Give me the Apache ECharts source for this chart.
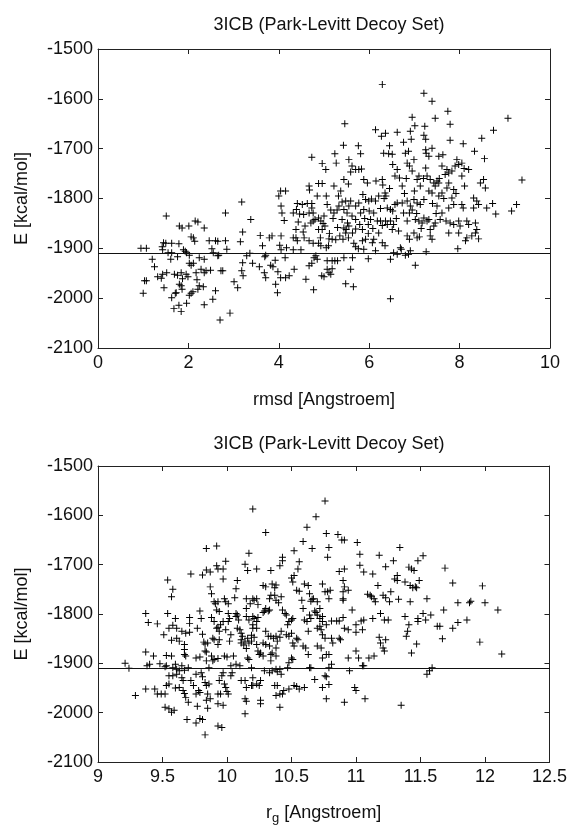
<!DOCTYPE html>
<html>
<head>
<meta charset="utf-8">
<script src="https://cdn.jsdelivr.net/npm/echarts@6/dist/echarts.min.js"></script>
<style>html,body{margin:0;padding:0;background:#fff}#c{width:570px;height:826px}</style>
</head>
<body>
<div id="c"></div>
<script>
// Top panel: energy vs rmsd
const rmsdEnergy = [
[0.95,-1900],[1.07,-1900],[1.2,-1922],[1.25,-1937],[1.0,-1990],[1.03,-1965],[1.07,-1965],[1.32,-1957],[1.42,-1897],[1.45,-1889],[1.43,-1903],[1.51,-1835],[1.5,-1890],[1.63,-1890],[1.79,-1891],[1.55,-1909],[1.63,-1909],[1.61,-1922],[1.76,-1917],[1.52,-1949],[1.43,-1952],[1.4,-1960],[1.46,-1979],[1.63,-1999],[1.68,-2021],[1.79,-2014],[1.84,-2027],[1.96,-2010],[1.73,-1989],[1.71,-1990],[1.8,-1972],[1.84,-1975],[1.86,-1982],[1.69,-1952],[1.76,-1954],[1.84,-1949],[1.95,-1952],[1.99,-1957],[1.87,-1961],[1.8,-1855],[1.86,-1859],[1.89,-1903],[1.93,-1906],[1.96,-1909],[2.01,-1855],[2.06,-1877],[2.11,-1879],[2.14,-1886],[2.15,-1845],[2.21,-1847],[2.02,-1930],[2.06,-1934],[2.11,-1930],[2.02,-1914],[2.06,-1990],[2.1,-1987],[2.02,-1994],[2.17,-1949],[2.19,-1963],[2.24,-1975],[2.21,-1982],[2.24,-1919],[2.35,-1922],[2.28,-1942],[2.35,-1859],[2.33,-1977],[2.35,-2013],[2.35,-1949],[2.39,-1945],[2.46,-1885],[2.6,-1885],[2.65,-1886],[2.52,-1901],[2.55,-1909],[2.65,-1915],[2.67,-1914],[2.54,-2002],[2.6,-1985],[2.49,-1944],[2.7,-2044],[2.72,-1945],[2.76,-1945],[2.82,-1829],[2.82,-1885],[2.85,-1902],[2.92,-2030],[3.01,-1967],[3.09,-1979],[3.18,-1807],[3.2,-1867],[3.15,-1887],[3.2,-1929],[3.18,-1945],[3.21,-1955],[3.29,-1915],[3.36,-1910],[3.38,-1842],[3.42,-1930],[3.57,-1937],[3.59,-1874],[3.64,-1895],[3.68,-1949],[3.71,-1959],[3.71,-1914],[3.69,-1917],[3.79,-1879],[3.85,-1875],[3.82,-1934],[3.87,-1937],[3.92,-1924],[3.93,-1972],[3.97,-1989],[3.98,-1947],
[4.0,-1795],[4.04,-1785],[4.15,-1785],[4.05,-1815],[4.07,-1829],[4.12,-1844],[4.05,-1875],[4.02,-1894],[4.05,-1903],[4.17,-1899],[4.14,-1919],[4.04,-1959],[4.15,-1959],[4.23,-1955],[4.34,-1942],[4.32,-1879],[4.38,-1879],[4.41,-1885],[4.32,-1903],[4.49,-1903],[4.38,-1862],[4.43,-1847],[4.32,-1829],[4.39,-1822],[4.41,-1810],[4.52,-1812],[4.46,-1831],[4.56,-1879],[4.58,-1855],[4.54,-1867],[4.6,-1962],[4.63,-1810],[4.73,-1810],[4.67,-1775],[4.68,-1783],[4.73,-1717],[4.67,-1885],[4.76,-1890],[4.73,-1819],[4.67,-1829],[4.76,-1829],[4.71,-1849],[4.76,-1845],[4.8,-1842],[4.67,-1935],[4.73,-1930],[4.78,-1919],[4.82,-1915],[4.85,-1922],[4.77,-1983],[4.88,-1770],[4.96,-1770],[4.96,-1730],[5.04,-1742],[4.88,-1839],[4.93,-1845],[4.98,-1850],[5.02,-1855],[4.96,-1862],[4.88,-1862],[4.92,-1879],[4.88,-1890],[4.93,-1895],[4.95,-1955],[5.0,-1957],[5.07,-1925],[5.07,-1942],[5.11,-1949],[5.15,-1952],[5.18,-1941],[5.24,-1925],[5.3,-1925],[5.18,-1925],[5.05,-1899],[5.1,-1895],[5.11,-1881],[5.18,-1882],[5.26,-1883],[5.05,-1795],[5.07,-1812],[5.15,-1823],[5.22,-1829],[5.29,-1823],[5.33,-1815],[5.32,-1795],[5.37,-1785],[5.24,-1710],[5.27,-1729],[5.22,-1775],[5.44,-1762],[5.54,-1771],[5.4,-1807],[5.48,-1805],[5.59,-1805],[5.44,-1822],[5.51,-1829],[5.55,-1815],[5.43,-1693],[5.46,-1650],[5.55,-1722],[5.62,-1735],[5.7,-1742],[5.77,-1742],[5.83,-1741],[5.59,-1747],[5.76,-1694],[5.81,-1710],[5.4,-1842],[5.44,-1859],[5.49,-1862],[5.55,-1855],[5.52,-1849],[5.48,-1869],[5.42,-1882],[5.54,-1879],[5.63,-1869],[5.7,-1861],[5.44,-1919],[5.63,-1919],[5.59,-1942],[5.48,-1971],[5.65,-1977],[5.7,-1897],[5.76,-1901],[5.85,-1885],[5.88,-1902],[5.92,-1882],[5.7,-1815],[5.77,-1809],[5.81,-1829],[5.88,-1822],[5.86,-1792],[5.92,-1802],[5.99,-1805],[6.05,-1801],[5.96,-1769],[5.88,-1762],[5.7,-1842],[5.79,-1852],[5.85,-1862],[5.98,-1852],[6.03,-1842],[5.98,-1921],[6.07,-1889],[6.1,-1882],[6.14,-1905],[5.98,-1870],[6.1,-1829],[6.14,-1805],[6.18,-1845],[6.21,-1795],[6.14,-1662],[6.15,-1765],
[6.29,-1571],[6.27,-1675],[6.36,-1669],[6.32,-1709],[6.43,-1710],[6.45,-1694],[6.51,-1711],[6.29,-1762],[6.3,-1773],[6.35,-1789],[6.37,-1795],[6.21,-1869],[6.25,-1845],[6.36,-1845],[6.29,-1854],[6.4,-1852],[6.47,-1845],[6.51,-1862],[6.54,-1852],[6.4,-1819],[6.47,-1822],[6.52,-1825],[6.57,-1812],[6.62,-1809],[6.29,-1889],[6.35,-1895],[6.47,-1922],[6.54,-1909],[6.62,-1912],[6.69,-1899],[6.71,-1902],[6.8,-1914],[6.87,-1912],[6.91,-1905],[6.47,-2001],[6.52,-1732],[6.57,-1755],[6.62,-1742],[6.67,-1759],[6.73,-1775],[6.62,-1667],[6.76,-1687],[6.8,-1709],[6.87,-1705],[6.91,-1665],[6.93,-1681],[6.95,-1637],[7.01,-1654],[6.84,-1729],[6.89,-1735],[6.95,-1745],[6.99,-1722],[7.06,-1762],[7.1,-1755],[7.13,-1775],[6.73,-1809],[6.84,-1805],[6.91,-1815],[6.99,-1802],[7.06,-1809],[7.13,-1812],[7.21,-1802],[6.76,-1829],[6.84,-1845],[6.89,-1829],[6.95,-1823],[7.02,-1842],[7.1,-1845],[7.17,-1849],[7.21,-1839],[7.28,-1845],[6.84,-1875],[6.89,-1882],[6.99,-1869],[7.06,-1879],[7.11,-1877],[7.02,-1934],[7.26,-1907],[7.21,-1589],[7.39,-1605],[7.21,-1673],[7.25,-1681],[7.23,-1655],[7.46,-1639],[7.25,-1702],[7.26,-1709],[7.32,-1715],[7.39,-1699],[7.25,-1739],[7.28,-1755],[7.35,-1762],[7.43,-1769],[7.5,-1765],[7.54,-1769],[7.46,-1775],[7.32,-1785],[7.39,-1789],[7.5,-1815],[7.54,-1795],[7.61,-1789],[7.32,-1842],[7.35,-1862],[7.43,-1855],[7.46,-1849],[7.57,-1842],[7.61,-1829],[7.39,-1882],[7.35,-1875],[7.54,-1715],[7.63,-1712],[7.61,-1735],[7.68,-1752],[7.74,-1625],[7.79,-1651],[7.79,-1683],[7.72,-1742],[7.76,-1749],[7.83,-1745],[7.9,-1735],[7.94,-1722],[7.98,-1732],[8.05,-1729],[7.76,-1769],[7.72,-1779],[7.83,-1799],[7.87,-1812],[7.76,-1819],[7.87,-1782],[7.79,-1849],[7.87,-1852],[7.98,-1845],[7.76,-1869],[7.98,-1869],[7.96,-1901],[8.01,-1855],[8.08,-1690],[8.05,-1755],[8.11,-1775],[8.08,-1819],[8.05,-1812],[8.2,-1742],[8.16,-1845],[8.2,-1852],[8.13,-1885],[8.16,-1879],[8.27,-1875],[8.31,-1799],[8.38,-1805],[8.42,-1812],[8.31,-1819],[8.35,-1849],[8.38,-1862],[8.35,-1869],[8.42,-1881],[8.33,-1705],[8.49,-1679],[8.55,-1720],[8.46,-1769],[8.57,-1779],[8.53,-1762],[8.6,-1819],[8.73,-1810],[8.8,-1831],[8.75,-1663],[9.07,-1639],[9.15,-1825],[9.26,-1812],[9.38,-1763],
[4.55,-1832],[4.85,-1795],[5.0,-1835],[5.12,-1870],[5.2,-1840],[5.3,-1858],[5.35,-1875],[5.62,-1835],[5.66,-1890],[5.9,-1840],[6.0,-1825],[6.08,-1860],[6.25,-1820],[6.33,-1800],[6.45,-1780],[6.6,-1840],[6.65,-1865],[6.78,-1790],[6.82,-1760],[7.0,-1785],[7.05,-1830],[7.15,-1860],[7.2,-1760],[7.4,-1810],[7.48,-1830],[7.55,-1760],[7.65,-1800],[7.7,-1845],[7.92,-1790],[8.1,-1740]
];

// Bottom panel: energy vs radius of gyration
const rgEnergy = [
[9.21,-1900],[9.24,-1910],[9.29,-1965],[9.37,-1952],[9.44,-1952],[9.46,-1962],[9.49,-1962],[9.37,-1877],[9.43,-1885],[9.38,-1905],[9.4,-1902],[9.37,-1799],[9.39,-1817],[9.46,-1820],[9.48,-1901],[9.52,-1907],[9.53,-1905],[9.51,-1842],[9.52,-1989],[9.55,-1992],[9.57,-1999],[9.59,-1995],[9.52,-1962],[9.53,-1945],[9.55,-1942],[9.53,-1884],[9.57,-1885],[9.54,-1731],[9.58,-1750],[9.57,-1765],[9.54,-1799],[9.55,-1829],[9.58,-1823],[9.6,-1809],[9.61,-1829],[9.57,-1853],[9.61,-1849],[9.63,-1855],[9.55,-1925],[9.58,-1925],[9.61,-1922],[9.65,-1929],[9.66,-1935],[9.58,-1909],[9.6,-1902],[9.61,-1912],[9.65,-1905],[9.63,-1915],[9.67,-1914],[9.6,-1950],[9.63,-1949],[9.66,-1955],[9.65,-1835],[9.68,-1839],[9.71,-1837],[9.71,-1807],[9.71,-1819],[9.67,-1862],[9.67,-1872],[9.67,-1882],[9.68,-1885],[9.7,-1909],[9.67,-1961],[9.68,-1969],[9.7,-1979],[9.69,-2014],[9.76,-2021],[9.79,-2012],[9.81,-2014],[9.72,-1719],[9.72,-1935],[9.74,-1945],[9.76,-1962],[9.79,-1959],[9.77,-1987],[9.78,-1955],[9.76,-1889],[9.79,-1887],[9.8,-1919],[9.76,-1922],[9.81,-1927],[9.83,-1939],[9.77,-1829],[9.79,-1794],[9.8,-1809],[9.81,-1841],[9.82,-1857],[9.83,-1861],[9.81,-1721],[9.84,-1711],[9.84,-1667],[9.87,-1715],[9.83,-2045],[9.85,-1991],[9.84,-1945],[9.86,-1942],[9.85,-1962],[9.84,-1975],[9.87,-1972],[9.86,-1909],[9.84,-1895],[9.88,-1885],[9.89,-1895],[9.9,-1892],[9.93,-1890],[9.83,-1875],[9.84,-1877],[9.85,-1859],[9.87,-1745],[9.88,-1759],[9.9,-1775],[9.91,-1779],[9.93,-1775],[9.92,-1792],[9.94,-1795],[9.88,-1807],[9.9,-1815],[9.92,-1829],[9.93,-1827],[9.94,-1835],[9.95,-1822],[9.97,-1815],[9.89,-1849],[9.9,-1852],[9.93,-1862],[9.94,-1852],[9.92,-1662],[9.92,-1702],[9.93,-1709],[9.93,-2027],[9.96,-2030],[9.93,-1962],[9.95,-1962],[9.93,-1982],[9.97,-1985],[9.96,-1925],[9.94,-1935],[9.97,-1919],[9.98,-1942],[9.99,-1949],[10.0,-1957],[10.01,-1962],[9.97,-1709],[9.97,-1729],[9.99,-1693],[9.98,-1769],[9.99,-1775],[10.01,-1779],[10.01,-1799],[10.02,-1809],[10.01,-1815],[9.99,-1832],[10.03,-1842],[10.02,-1855],[9.98,-1885],[10.0,-1887],[10.03,-1905],[10.04,-1919],[10.03,-1925],
[10.05,-1885],[10.08,-1802],[10.08,-1732],[10.07,-1749],[10.06,-1767],[10.07,-1799],[10.07,-1805],[10.09,-1812],[10.08,-1829],[10.1,-1832],[10.11,-1839],[10.12,-1845],[10.11,-1852],[10.14,-1855],[10.07,-1902],[10.1,-1905],[10.11,-1935],[10.14,-1935],[10.15,-1949],[10.14,-1972],[10.15,-1977],[10.14,-2002],[10.11,-1859],[10.13,-1863],[10.15,-1870],[10.17,-1859],[10.19,-1855],[10.16,-1849],[10.14,-1699],[10.17,-1677],[10.16,-1712],[10.15,-1769],[10.18,-1779],[10.15,-1789],[10.2,-1769],[10.21,-1772],[10.23,-1769],[10.15,-1805],[10.17,-1812],[10.2,-1805],[10.21,-1809],[10.23,-1815],[10.24,-1807],[10.2,-1822],[10.23,-1829],[10.2,-1829],[10.19,-1843],[10.21,-1847],[10.23,-1862],[10.24,-1875],[10.25,-1882],[10.26,-1879],[10.28,-1885],[10.16,-1889],[10.17,-1892],[10.19,-1909],[10.2,-1929],[10.23,-1942],[10.25,-1945],[10.26,-1935],[10.19,-1945],[10.2,-1945],[10.26,-1975],[10.26,-1982],[10.2,-1587],[10.23,-1709],[10.24,-1781],[10.28,-1797],[10.29,-1794],[10.3,-1789],[10.32,-1794],[10.33,-1792],[10.28,-1742],[10.3,-1745],[10.3,-1635],[10.34,-1712],[10.35,-1739],[10.37,-1747],[10.38,-1741],[10.34,-1762],[10.33,-1769],[10.3,-1835],[10.32,-1845],[10.34,-1845],[10.36,-1849],[10.38,-1845],[10.39,-1855],[10.41,-1847],[10.42,-1835],[10.28,-1859],[10.3,-1862],[10.33,-1865],[10.34,-1882],[10.35,-1879],[10.38,-1869],[10.38,-1885],[10.34,-1895],[10.29,-1915],[10.33,-1919],[10.35,-1915],[10.38,-1912],[10.39,-1917],[10.41,-1912],[10.42,-1922],[10.37,-1945],[10.39,-1945],[10.38,-1965],[10.41,-1962],[10.41,-1989],[10.43,-1962],[10.44,-1955],[10.37,-1762],[10.38,-1772],[10.4,-1777],[10.42,-1765],[10.41,-1702],[10.43,-1692],[10.43,-1685],[10.43,-1792],[10.45,-1799],[10.46,-1802],[10.47,-1822],[10.48,-1815],[10.5,-1812],[10.51,-1809],[10.46,-1842],[10.48,-1845],[10.5,-1839],[10.51,-1859],[10.52,-1865],[10.54,-1849],[10.55,-1852],[10.47,-1909],[10.48,-1899],[10.5,-1889],[10.51,-1892],[10.52,-1945],[10.54,-1947],[10.56,-1952],[10.6,-1949],[10.48,-1952],[10.5,-1727],[10.51,-1735],[10.52,-1722],[10.54,-1752],[10.55,-1709],[10.56,-1694],[10.52,-1672],
[10.56,-1754],[10.58,-1772],[10.6,-1739],[10.63,-1742],[10.64,-1759],[10.65,-1774],[10.59,-1789],[10.6,-1812],[10.62,-1815],[10.63,-1835],[10.64,-1802],[10.65,-1809],[10.59,-1865],[10.61,-1869],[10.63,-1882],[10.65,-1909],[10.64,-1909],[10.59,-1653],[10.62,-1624],[10.66,-1667],[10.66,-1770],[10.68,-1794],[10.69,-1797],[10.7,-1802],[10.72,-1809],[10.74,-1805],[10.74,-1815],[10.69,-1603],[10.74,-1739],[10.76,-1755],[10.7,-1829],[10.72,-1825],[10.73,-1832],[10.74,-1842],[10.76,-1849],[10.77,-1822],[10.67,-1769],[10.7,-1775],[10.72,-1789],[10.7,-1865],[10.73,-1869],[10.74,-1889],[10.77,-1882],[10.79,-1882],[10.81,-1902],[10.79,-1909],[10.68,-1933],[10.74,-1949],[10.76,-1925],[10.77,-1927],[10.79,-1943],[10.77,-1972],[10.76,-1571],[10.77,-1637],[10.78,-1685],[10.79,-1665],[10.78,-1755],[10.8,-1752],[10.79,-1769],[10.81,-1814],[10.85,-1814],[10.87,-1814],[10.9,-1807],[10.81,-1849],[10.82,-1859],[10.87,-1849],[10.88,-1852],[10.86,-1639],[10.89,-1650],[10.91,-1650],[10.87,-1714],[10.91,-1709],[10.9,-1732],[10.91,-1745],[10.9,-1755],[10.9,-1769],[10.9,-1772],[10.91,-1829],[10.94,-1832],[10.94,-1752],[10.91,-1979],[10.95,-1915],[10.94,-1889],[10.97,-1792],[10.99,-1949],[11.0,-1955],[11.0,-1822],[11.0,-1837],[11.01,-1655],[11.03,-1679],[11.03,-1701],[11.02,-1889],[11.05,-1905],[11.06,-1905],[11.0,-1875],[11.04,-1814],[11.05,-1832],[11.06,-1812],[11.06,-1715],[11.07,-1972],[11.09,-1760],[11.1,-1889],[11.11,-1762],[11.13,-1719],[11.12,-1765],[11.14,-1769],[11.14,-1885],[11.13,-1809],[11.15,-1775],[11.18,-1681],[11.17,-1742],[11.19,-1799],[11.21,-1762],[11.18,-1847],[11.19,-1859],[11.21,-1869],[11.22,-1875],[11.23,-1852],[11.22,-1812],[11.23,-1704],[11.23,-1767],[11.25,-1812],[11.26,-1775],[11.27,-1755],[11.29,-1692],[11.3,-1729],[11.32,-1722],[11.33,-1770],[11.34,-1665],[11.32,-1732],[11.35,-1985],[11.38,-1735],[11.38,-1805],[11.4,-1835],[11.39,-1845],[11.41,-1822],[11.42,-1775],[11.41,-1705],[11.43,-1709],[11.45,-1712],[11.42,-1742],[11.44,-1747],[11.46,-1745],[11.47,-1747],[11.43,-1879],[11.47,-1861],[11.48,-1809],[11.48,-1815],[11.49,-1732],[11.48,-1692],[11.52,-1682],[11.52,-1799],[11.55,-1769],[11.54,-1812],[11.57,-1915],[11.55,-1922],[11.59,-1909],[11.58,-1802],[11.63,-1825],[11.65,-1825],[11.68,-1792],[11.67,-1850],[11.69,-1707],[11.75,-1829],[11.75,-1737],[11.79,-1817],[11.79,-1777],[11.86,-1812],[11.89,-1774],[11.88,-1777],[11.96,-1857],[11.98,-1743],[12.0,-1777],[12.1,-1792],[12.13,-1881]
];

const refEnergy = -1910;
const titleText = '3ICB (Park-Levitt Decoy Set)';
const energyTicks = [-2100, -1500, 100];
const rmsdTicks = [0, 10, 2];
const rgTicks = [9, 12.5, 0.5];

const FONT = 'Liberation Sans';
const FS = 18;
const TXT = '#111';
const AX = '#222';
const PLUS = 'path://M4.3,0h1.4v4.3h4.3v1.4h-4.3v4.3h-1.4v-4.3h-4.3v-1.4h4.3z';

function xAxes(gi, ticks, name, gap) {
  return [
    {gridIndex: gi, type: 'value', position: 'bottom', min: ticks[0], max: ticks[1], interval: ticks[2],
     name: name, nameLocation: 'middle', nameGap: gap,
     nameTextStyle: {fontFamily: FONT, fontSize: FS, color: TXT, rich: {
        r: {fontFamily: FONT, fontSize: FS, color: TXT},
        g: {fontFamily: FONT, fontSize: 13, color: TXT, padding: [10, 0, 0, 0]}
     }},
     axisLine: {show: true, onZero: false, lineStyle: {color: AX, width: 1}},
     axisTick: {inside: true, length: 5, lineStyle: {color: AX}},
     axisLabel: {fontFamily: FONT, fontSize: FS, color: TXT, margin: 6, formatter: v => String(v)},
     splitLine: {show: false}},
    {gridIndex: gi, type: 'value', position: 'top', min: ticks[0], max: ticks[1], interval: ticks[2],
     axisLine: {show: true, onZero: false, lineStyle: {color: AX, width: 1}},
     axisTick: {inside: true, length: 5, lineStyle: {color: AX}},
     axisLabel: {show: false}, splitLine: {show: false}}
  ];
}
function yAxes(gi) {
  return [
    {gridIndex: gi, type: 'value', position: 'left', min: energyTicks[0], max: energyTicks[1], interval: energyTicks[2],
     name: 'E [kcal/mol]', nameLocation: 'middle', nameGap: 67,
     nameTextStyle: {fontFamily: FONT, fontSize: FS, color: TXT},
     axisLine: {show: true, onZero: false, lineStyle: {color: AX, width: 1}},
     axisTick: {inside: true, length: 5, lineStyle: {color: AX}},
     axisLabel: {fontFamily: FONT, fontSize: FS, color: TXT, margin: 5, formatter: v => String(v)},
     splitLine: {show: false}},
    {gridIndex: gi, type: 'value', position: 'right', min: energyTicks[0], max: energyTicks[1], interval: energyTicks[2],
     axisLine: {show: true, onZero: false, lineStyle: {color: AX, width: 1}},
     axisTick: {inside: true, length: 5, lineStyle: {color: AX}},
     axisLabel: {show: false}, splitLine: {show: false}}
  ];
}
function scatter(xi, yi, data) {
  return {
    type: 'scatter', xAxisIndex: xi, yAxisIndex: yi, data: data,
    symbol: PLUS, symbolSize: 7, silent: true, animation: false,
    itemStyle: {color: '#000', opacity: 1},
    markLine: {silent: true, symbol: 'none', animation: false, label: {show: false},
      lineStyle: {color: '#111', width: 1, type: 'solid'},
      data: [{yAxis: refEnergy}]}
  };
}

const chart = echarts.init(document.getElementById('c'), null, {renderer: 'canvas'});
chart.setOption({
  backgroundColor: '#fff',
  animation: false,
  title: [
    {text: titleText, left: 324, top: 11, textAlign: 'center',
     textStyle: {fontFamily: FONT, fontSize: FS, fontWeight: 'normal', color: TXT}},
    {text: titleText, left: 324, top: 430, textAlign: 'center',
     textStyle: {fontFamily: FONT, fontSize: FS, fontWeight: 'normal', color: TXT}}
  ],
  grid: [
    {left: 98, top: 49, width: 452, height: 299},
    {left: 98, top: 466, width: 452, height: 301}
  ],
  xAxis: [...xAxes(0, rmsdTicks, 'rmsd [Angstroem]', 43), ...xAxes(1, rgTicks, '{r|r}{g|g}{r| [Angstroem]}', 40)],
  yAxis: [...yAxes(0), ...yAxes(1)],
  series: [scatter(0, 0, rmsdEnergy), scatter(2, 2, rgEnergy)]
});
</script>
</body>
</html>
